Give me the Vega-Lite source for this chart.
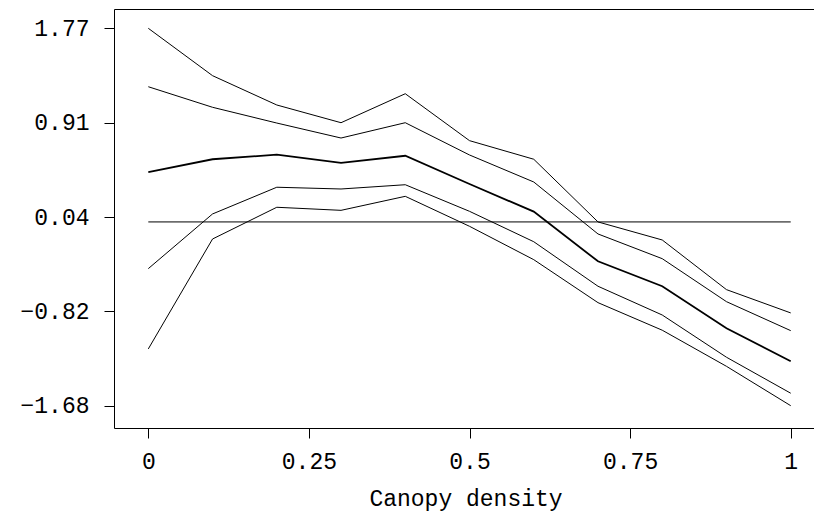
{
  "$schema": "https://vega.github.io/schema/vega-lite/v6.json",
  "width": 703,
  "height": 419,
  "autosize": "none",
  "padding": {"left": 114, "top": 9, "right": -3, "bottom": 90},
  "background": "white",
  "config": {
    "view": {"stroke": "black", "strokeWidth": 1},
    "axis": {
      "grid": false,
      "domain": false,
      "tickColor": "black",
      "tickWidth": 1,
      "tickSize": 10,
      "labelColor": "black",
      "titleColor": "black",
      "labelFont": "Liberation Mono",
      "titleFont": "Liberation Mono",
      "labelFontSize": 23,
      "titleFontSize": 23,
      "titleFontWeight": "normal"
    }
  },
  "datasets": {
    "curves": [
      {"density": 0.0, "series": "upper95", "value": 1.77},
      {"density": 0.1, "series": "upper95", "value": 1.337},
      {"density": 0.2, "series": "upper95", "value": 1.069},
      {"density": 0.3, "series": "upper95", "value": 0.907},
      {"density": 0.4, "series": "upper95", "value": 1.172},
      {"density": 0.5, "series": "upper95", "value": 0.743},
      {"density": 0.6, "series": "upper95", "value": 0.573},
      {"density": 0.7, "series": "upper95", "value": 0.0},
      {"density": 0.8, "series": "upper95", "value": -0.165},
      {"density": 0.9, "series": "upper95", "value": -0.619},
      {"density": 1.0, "series": "upper95", "value": -0.832},

      {"density": 0.0, "series": "upper68", "value": 1.236},
      {"density": 0.1, "series": "upper68", "value": 1.048},
      {"density": 0.2, "series": "upper68", "value": 0.904},
      {"density": 0.3, "series": "upper68", "value": 0.767},
      {"density": 0.4, "series": "upper68", "value": 0.907},
      {"density": 0.5, "series": "upper68", "value": 0.612},
      {"density": 0.6, "series": "upper68", "value": 0.365},
      {"density": 0.7, "series": "upper68", "value": -0.11},
      {"density": 0.8, "series": "upper68", "value": -0.336},
      {"density": 0.9, "series": "upper68", "value": -0.729},
      {"density": 1.0, "series": "upper68", "value": -0.994},

      {"density": 0.0, "series": "fit", "value": 0.456},
      {"density": 0.1, "series": "fit", "value": 0.573},
      {"density": 0.2, "series": "fit", "value": 0.615},
      {"density": 0.3, "series": "fit", "value": 0.539},
      {"density": 0.4, "series": "fit", "value": 0.605},
      {"density": 0.5, "series": "fit", "value": 0.347},
      {"density": 0.6, "series": "fit", "value": 0.094},
      {"density": 0.7, "series": "fit", "value": -0.36},
      {"density": 0.8, "series": "fit", "value": -0.588},
      {"density": 0.9, "series": "fit", "value": -0.972},
      {"density": 1.0, "series": "fit", "value": -1.274},

      {"density": 0.0, "series": "lower68", "value": -0.427},
      {"density": 0.1, "series": "lower68", "value": 0.073},
      {"density": 0.2, "series": "lower68", "value": 0.317},
      {"density": 0.3, "series": "lower68", "value": 0.301},
      {"density": 0.4, "series": "lower68", "value": 0.34},
      {"density": 0.5, "series": "lower68", "value": 0.097},
      {"density": 0.6, "series": "lower68", "value": -0.181},
      {"density": 0.7, "series": "lower68", "value": -0.588},
      {"density": 0.8, "series": "lower68", "value": -0.851},
      {"density": 0.9, "series": "lower68", "value": -1.237},
      {"density": 1.0, "series": "lower68", "value": -1.566},

      {"density": 0.0, "series": "lower95", "value": -1.161},
      {"density": 0.1, "series": "lower95", "value": -0.156},
      {"density": 0.2, "series": "lower95", "value": 0.134},
      {"density": 0.3, "series": "lower95", "value": 0.106},
      {"density": 0.4, "series": "lower95", "value": 0.234},
      {"density": 0.5, "series": "lower95", "value": -0.04},
      {"density": 0.6, "series": "lower95", "value": -0.345},
      {"density": 0.7, "series": "lower95", "value": -0.738},
      {"density": 0.8, "series": "lower95", "value": -0.99},
      {"density": 0.9, "series": "lower95", "value": -1.32},
      {"density": 1.0, "series": "lower95", "value": -1.68}
    ],
    "reference": [
      {"start": 0, "end": 1, "level": 0}
    ]
  },
  "layer": [
    {
      "data": {"name": "curves"},
      "transform": [{"filter": "datum.series !== 'fit'"}],
      "mark": {"type": "line", "color": "black", "strokeWidth": 1},
      "encoding": {
        "x": {
          "field": "density",
          "type": "quantitative",
          "scale": {"domain": [-0.0534, 1.0409], "nice": false, "zero": false},
          "axis": {
            "values": [0, 0.25, 0.5, 0.75, 1],
            "labelExpr": "datum.value + ''",
            "labelPadding": 12,
            "title": "Canopy density",
            "titlePadding": 14
          }
        },
        "y": {
          "field": "value",
          "type": "quantitative",
          "scale": {"domain": [-1.8839, 1.9465], "nice": false, "zero": false},
          "axis": {
            "values": [-1.68, -0.8175, 0.045, 0.9075, 1.77],
            "format": ".2f",
            "labelPadding": 15,
            "title": null
          }
        },
        "detail": {"field": "series"}
      }
    },
    {
      "data": {"name": "curves"},
      "transform": [{"filter": "datum.series === 'fit'"}],
      "mark": {"type": "line", "color": "black", "strokeWidth": 1.8},
      "encoding": {
        "x": {"field": "density", "type": "quantitative"},
        "y": {"field": "value", "type": "quantitative"}
      }
    },
    {
      "data": {"name": "reference"},
      "mark": {"type": "rule", "color": "black", "strokeWidth": 1},
      "encoding": {
        "x": {"field": "start", "type": "quantitative"},
        "x2": {"field": "end"},
        "y": {"field": "level", "type": "quantitative"}
      }
    }
  ]
}
